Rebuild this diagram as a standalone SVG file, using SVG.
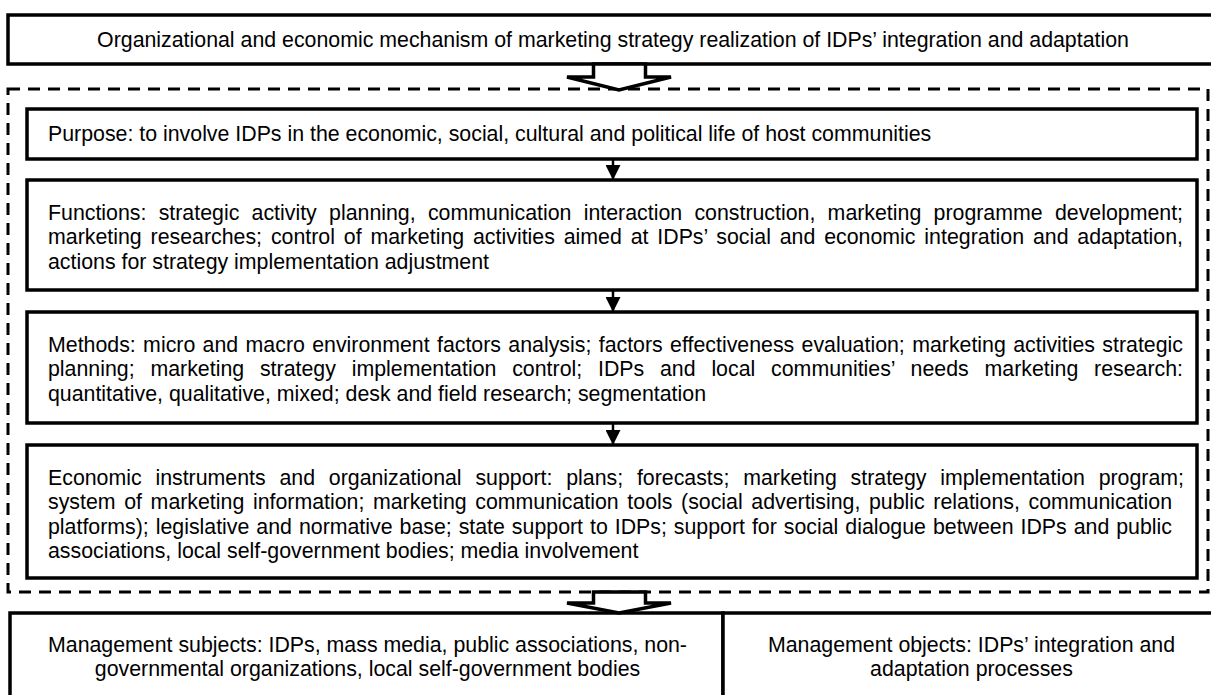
<svg xmlns="http://www.w3.org/2000/svg" width="1211" height="695" viewBox="0 0 1211 695">
<style>
.box{fill:#fff;stroke:#000;stroke-width:3.5}
.t{font-family:"Liberation Sans",Arial,sans-serif;font-size:21.33px;fill:#000}
.c{text-anchor:middle}
.dash{fill:none;stroke:#000;stroke-width:3;stroke-dasharray:12 8}
.blk{fill:#fff;stroke:#000;stroke-width:3.5;stroke-linejoin:miter}
.ln{fill:none;stroke:#000;stroke-width:2.5}
</style>
<defs>
<marker id="ah" markerUnits="userSpaceOnUse" markerWidth="15" markerHeight="15" viewBox="0 0 15 15" refX="15" refY="7.5" orient="auto">
<path d="M0,0 L15,7.5 L0,15 z" fill="#000"/>
</marker>
</defs>
<rect width="1211" height="695" fill="#fff"/>

<g id="mechanism">
<rect class="box" x="8" y="15" width="1210" height="49"/>
<text class="t c" x="613" y="47">Organizational and economic mechanism of marketing strategy realization of IDPs’ integration and adaptation</text>
</g>

<g id="mechanism-frame">
<rect class="dash" x="8" y="89" width="1200" height="503"/>
</g>

<g id="purpose">
<rect class="box" x="27" y="109" width="1170" height="50"/>
<text class="t" x="48" y="141">Purpose: to involve IDPs in the economic, social, cultural and political life of host communities</text>
</g>

<g id="functions">
<rect class="box" x="27" y="180" width="1170" height="110"/>
<text class="t" x="48" y="219.5" style="word-spacing:6.38px" textLength="1135">Functions: strategic activity planning, communication interaction construction, marketing programme development;</text>
<text class="t" x="48" y="244" style="word-spacing:2.91px" textLength="1135">marketing researches; control of marketing activities aimed at IDPs’ social and economic integration and adaptation,</text>
<text class="t" x="48" y="268.5">actions for strategy implementation adjustment</text>
</g>

<g id="methods">
<rect class="box" x="27" y="312" width="1170" height="111"/>
<text class="t" x="48" y="351.5" style="word-spacing:1.43px" textLength="1135">Methods: micro and macro environment factors analysis; factors effectiveness evaluation; marketing activities strategic</text>
<text class="t" x="48" y="376" style="word-spacing:9.85px" textLength="1135">planning; marketing strategy implementation control; IDPs and local communities’ needs marketing research:</text>
<text class="t" x="48" y="400.5">quantitative, qualitative, mixed; desk and field research; segmentation</text>
</g>

<g id="instruments">
<rect class="box" x="27" y="445" width="1170" height="133"/>
<text class="t" x="48" y="484.5" style="word-spacing:7.86px" textLength="1136">Economic instruments and organizational support: plans; forecasts; marketing strategy implementation program;</text>
<text class="t" x="48" y="509" style="word-spacing:2.72px" textLength="1124">system of marketing information; marketing communication tools (social advertising, public relations, communication</text>
<text class="t" x="48" y="533.5" style="word-spacing:1.04px" textLength="1124">platforms); legislative and normative base; state support to IDPs; support for social dialogue between IDPs and public</text>
<text class="t" x="48" y="558">associations, local self-government bodies; media involvement</text>
</g>

<g id="subjects">
<rect class="box" x="10" y="613" width="713" height="90"/>
<text class="t c" x="367.5" y="651.5">Management subjects: IDPs, mass media, public associations, non-</text>
<text class="t c" x="367.5" y="676">governmental organizations, local self-government bodies</text>
</g>

<g id="objects">
<rect class="box" x="723" y="613" width="495" height="90"/>
<text class="t c" x="971.5" y="651.5">Management objects: IDPs’ integration and</text>
<text class="t c" x="971.5" y="676">adaptation processes</text>
</g>

<g id="connectors">
<polygon class="blk" points="593.5,64 593.5,77 567,77 619,90 671,77 645.5,77 645.5,64"/>
<line class="ln" x1="613" y1="159" x2="613" y2="180" marker-end="url(#ah)"/>
<line class="ln" x1="613" y1="290" x2="613" y2="312" marker-end="url(#ah)"/>
<line class="ln" x1="613" y1="423" x2="613" y2="445" marker-end="url(#ah)"/>
<polygon class="blk" points="593.5,592 593.5,603 567,603 619,613 671,603 645.5,603 645.5,592"/>
</g>
</svg>
